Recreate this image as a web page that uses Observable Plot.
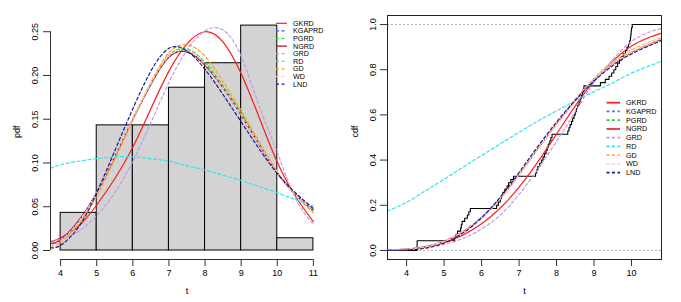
<!DOCTYPE html>
<html><head><meta charset="utf-8">
<script src="https://cdn.jsdelivr.net/npm/d3@7"></script>
<script src="https://cdn.jsdelivr.net/npm/@observablehq/plot@0.6"></script>
<style>
body{margin:0;background:#fff;}
#wrap{display:flex;width:681px;height:302px;overflow:hidden;}
</style></head><body><div id="wrap"></div>
<script>
// ---------- data ----------
const models = ["GKRD","KGAPRD","PGRD","NGRD","GRD","RD","GD","WD","LND"];
const histBreaks = [4,5,6,7,8,9,10,11];
const histDensity = [0.043,0.143,0.143,0.186,0.214,0.257,0.014];

const pdfT = [3.72,4,4.5,5,5.5,6,6.5,7,7.5,8,8.5,9,9.5,10,10.5,11];
const pdfGKRD   = [0.0095,0.0145,0.028,0.052,0.082,0.118,0.162,0.205,0.236,0.250,0.238,0.202,0.152,0.101,0.062,0.033];
const pdfKGAPRD = [0.008,0.012,0.034,0.066,0.107,0.150,0.190,0.221,0.227,0.212,0.186,0.155,0.121,0.089,0.064,0.046];
const pdfPGRD   = [0.007,0.011,0.033,0.066,0.107,0.151,0.191,0.223,0.230,0.215,0.188,0.157,0.122,0.089,0.064,0.045];
const pdfNGRD   = [0.008,0.012,0.034,0.066,0.107,0.150,0.190,0.221,0.227,0.212,0.186,0.155,0.121,0.089,0.064,0.046];
const pdfGRD    = [0.011,0.013,0.022,0.040,0.066,0.102,0.146,0.192,0.229,0.251,0.252,0.222,0.165,0.112,0.060,0.030];
const pdfRD     = [0.094,0.098,0.102,0.105,0.107,0.107,0.105,0.102,0.097,0.092,0.086,0.080,0.073,0.066,0.058,0.051];
const pdfGD     = [0.005,0.009,0.030,0.062,0.104,0.149,0.192,0.226,0.235,0.222,0.193,0.160,0.124,0.090,0.063,0.043];
const pdfWD     = [0.007,0.011,0.033,0.066,0.108,0.151,0.191,0.222,0.228,0.213,0.186,0.155,0.121,0.089,0.064,0.046];
const pdfLND    = [0.003,0.006,0.027,0.066,0.114,0.162,0.205,0.231,0.228,0.207,0.178,0.147,0.116,0.088,0.066,0.048];

const cdfT = [3.49,4,4.5,5,5.5,6,6.5,7,7.5,8,8.5,9,9.5,10,10.5,10.8];
const cdfGKRD   = [0.002,0.005,0.015,0.035,0.068,0.118,0.188,0.280,0.392,0.515,0.640,0.750,0.838,0.905,0.945,0.962];
const cdfKGAPRD = [0.002,0.006,0.017,0.041,0.083,0.146,0.231,0.336,0.450,0.560,0.663,0.755,0.824,0.876,0.913,0.935];
const cdfPGRD   = [0.002,0.006,0.017,0.040,0.082,0.145,0.230,0.336,0.451,0.561,0.664,0.756,0.825,0.877,0.914,0.936];
const cdfNGRD   = [0.002,0.006,0.017,0.041,0.083,0.146,0.231,0.336,0.450,0.560,0.663,0.755,0.824,0.876,0.913,0.935];
const cdfGRD    = [0.003,0.005,0.012,0.027,0.053,0.095,0.157,0.248,0.360,0.483,0.615,0.745,0.845,0.925,0.968,0.983];
const cdfRD     = [0.175,0.213,0.264,0.315,0.368,0.420,0.472,0.523,0.572,0.618,0.662,0.703,0.742,0.785,0.818,0.838];
const cdfGD     = [0.001,0.004,0.014,0.037,0.078,0.142,0.228,0.334,0.450,0.565,0.670,0.762,0.834,0.887,0.924,0.942];
const cdfWD     = [0.002,0.006,0.017,0.041,0.083,0.146,0.231,0.336,0.450,0.560,0.663,0.755,0.824,0.876,0.913,0.935];
const cdfLND    = [0.000,0.002,0.010,0.033,0.077,0.145,0.236,0.345,0.460,0.568,0.665,0.750,0.818,0.870,0.908,0.930];

// observed sample (sorted) for the empirical cdf
const sample = [4.28,4.28,4.28,5.28,5.32,5.36,5.44,5.46,5.48,5.55,5.62,5.66,5.70,
  6.40,6.45,6.50,6.53,6.57,6.62,6.68,6.72,6.78,6.85,
  7.44,7.47,7.50,7.55,7.60,7.64,7.68,7.72,7.75,7.78,7.82,7.85,7.88,
  8.30,8.33,8.36,8.40,8.43,8.47,8.50,8.53,8.56,8.60,8.63,8.66,8.69,8.71,8.73,
  9.17,9.30,9.40,9.47,9.53,9.58,9.63,9.68,9.73,9.78,9.84,9.88,9.92,9.95,9.97,9.98,9.99,10.0,
  10.02];

const pdfTicksX = [4,5,6,7,8,9,10,11];
const pdfTicksY = [0,0.05,0.10,0.15,0.20,0.25];
const cdfTicksX = [4,5,6,7,8,9,10];
const cdfTicksY = [0,0.2,0.4,0.6,0.8,1.0];

// ---------- styles ----------
const pdfColor = {GKRD:"#ff1a1a",KGAPRD:"#4a4aff",PGRD:"#22e022",NGRD:"#a0102a",GRD:"#c09ae8",RD:"#33e4ee",GD:"#ffa31a",WD:"#ffc8d6",LND:"#1c1c90"};
const cdfColor = {GKRD:"#ff2020",KGAPRD:"#6a6aff",PGRD:"#22dd22",NGRD:"#e03838",GRD:"#c597ee",RD:"#33e4ee",GD:"#ffb347",WD:"#ffd0dc",LND:"#1c1c90"};
const dash = {GKRD:null,KGAPRD:"3,2.5",PGRD:"3,2.5",NGRD:null,GRD:"3,2.5",RD:"3,2.5",GD:"3,2.5",WD:"3,2.5",LND:"3,2.5"};

const pdfSeries = {GKRD:pdfGKRD,KGAPRD:pdfKGAPRD,PGRD:pdfPGRD,NGRD:pdfNGRD,GRD:pdfGRD,RD:pdfRD,GD:pdfGD,WD:pdfWD,LND:pdfLND};
const cdfSeries = {GKRD:cdfGKRD,KGAPRD:cdfKGAPRD,PGRD:cdfPGRD,NGRD:cdfNGRD,GRD:cdfGRD,RD:cdfRD,GD:cdfGD,WD:cdfWD,LND:cdfLND};

const FONT = "'Liberation Sans', Arial, Helvetica, sans-serif";
const style = {fontFamily: FONT, fontSize: "9px", background: "white", color: "black", overflow: "visible"};

// ---------- left: pdf ----------
const xL = [3.72, 11.28], yL = [-0.0103, 0.2674];
const histRows = histDensity.map((d,i)=>({x0: histBreaks[i], x1: histBreaks[i+1], d}));
const pdfMarks = models.map(m => Plot.line(pdfT.map((t,i)=>({t, v: pdfSeries[m][i]})),
  {x:"t", y:"v", stroke: pdfColor[m], strokeWidth: 1.2, strokeDasharray: dash[m], curve:"natural"}));

const left = Plot.plot({
  width: 340, height: 302,
  marginLeft: 50, marginRight: 17, marginTop: 16, marginBottom: 43,
  x: {domain: xL, axis: null},
  y: {domain: yL, axis: null},
  style,
  marks: [
    Plot.rectY(histRows, {x1:"x0", x2:"x1", y1: 0, y2:"d", fill:"#d3d3d3", stroke:"black", strokeWidth: 1}),
    ...pdfMarks,
    Plot.ruleY([yL[0]], {x1: pdfTicksX[0], x2: pdfTicksX[pdfTicksX.length-1], stroke:"#333"}),
    Plot.axisX({ticks: pdfTicksX, tickSize: 7, tickPadding: 3, label: null, stroke:"#333", fontSize: 9}),
    Plot.ruleX([xL[0]], {y1: pdfTicksY[0], y2: pdfTicksY[pdfTicksY.length-1], stroke:"#333"}),
    Plot.axisY({ticks: pdfTicksY, tickSize: 7, text: null, label: null, stroke:"#333"}),
    Plot.text(pdfTicksY, {x: xL[0], y: d=>d, text: d=>d.toFixed(2), rotate: -90, dx: -15, textAnchor:"middle", fontSize: 9}),
    Plot.text(["t"], {frameAnchor:"bottom", dy: 34, fontSize: 9}),
    Plot.text(["pdf"], {frameAnchor:"left", rotate: -90, dx: -33, fontSize: 9})
  ]
});

// ---------- right: cdf ----------
const xR = [3.49, 10.8], yR = [-0.04, 1.04];
const n = sample.length;
const ecdfRows = [{t: xR[0], p: 0}, ...sample.map((t,i)=>({t, p:(i+1)/n})), {t: xR[1], p: 1}];
const cdfMarks = models.map(m => Plot.line(cdfT.map((t,i)=>({t, v: cdfSeries[m][i]})),
  {x:"t", y:"v", stroke: cdfColor[m], strokeWidth: 1.2, strokeDasharray: dash[m], curve:"natural"}));

const right = Plot.plot({
  width: 341, height: 302,
  marginLeft: 47, marginRight: 20, marginTop: 15, marginBottom: 43,
  x: {domain: xR, axis: null},
  y: {domain: yR, axis: null},
  style,
  marks: [
    Plot.ruleY([0, 1], {stroke:"#b3b3b3", strokeDasharray:"2,2"}),
    Plot.line(ecdfRows, {x:"t", y:"p", curve:"step-after", stroke:"black", strokeWidth: 1.1}),
    ...cdfMarks,
    Plot.frame({stroke:"#222"}),
    Plot.axisX({ticks: cdfTicksX, tickSize: 7, tickPadding: 3, label: null, stroke:"#333", fontSize: 9}),
    Plot.axisY({ticks: cdfTicksY, tickSize: 7, text: null, label: null, stroke:"#333"}),
    Plot.text(cdfTicksY, {x: xR[0], y: d=>d, text: d=>d.toFixed(1), rotate: -90, dx: -14, textAnchor:"middle", fontSize: 9}),
    Plot.text(["t"], {frameAnchor:"bottom", dy: 34, fontSize: 9}),
    Plot.text(["cdf"], {frameAnchor:"left", rotate: -90, dx: -32, fontSize: 9})
  ]
});

// ---------- legends ----------
function legend(svg, colors, lx1, lx2, tx, y0, dy, lw) {
  const g = d3.select(svg).append("g").attr("font-family", FONT).attr("font-size", 7.2).attr("text-anchor", "start");
  models.forEach((m,i) => {
    const y = y0 + i*dy;
    g.append("line").attr("x1", lx1).attr("x2", lx2).attr("y1", y).attr("y2", y)
      .attr("stroke", colors[m]).attr("stroke-width", lw)
      .attr("stroke-dasharray", dash[m] ? "3,2.5" : null);
    g.append("text").attr("x", tx).attr("y", y).attr("dy", "0.35em").attr("fill","black")
      .attr("text-anchor", "start").text(m);
  });
}
legend(left, pdfColor, 276, 287, 293, 23.3, 7.6, 1.2);
legend(right, cdfColor, 266.5, 280, 286, 102.7, 8.75, 1.8);

const wrap = document.getElementById("wrap");
wrap.appendChild(left);
wrap.appendChild(right);
</script></body></html>
